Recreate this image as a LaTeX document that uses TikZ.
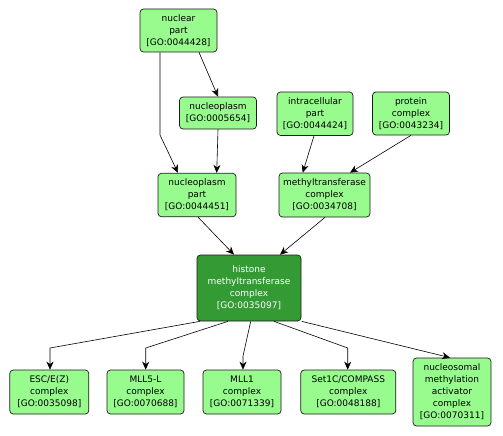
\documentclass[tikz,border=0pt]{standalone}
\usepackage{fontspec}
\setmainfont{DejaVu Sans}
\usetikzlibrary{arrows.meta}
\definecolor{lgreen}{HTML}{98FB8E}
\definecolor{dgreen}{HTML}{349A34}
\definecolor{edgec}{HTML}{1A1A1A}
\tikzset{
  goterm/.style n args={2}{draw=edgec, line width=0.7pt, rounded corners=3.5pt, fill=lgreen,
     minimum width=#1pt, minimum height=#2pt, inner sep=0pt, align=center,
     font=\fontsize{9}{12}\selectfont},
  gosel/.style={fill=dgreen, text=white},
  link/.style={draw=black, line width=0.6pt, -{Stealth[length=8pt,width=7pt,inset=2.5pt]}}
}
\begin{document}
\begin{tikzpicture}[x=1pt,y=-1pt]
\useasboundingbox[fill=white] (0,0) rectangle (503,436);
\node[goterm={77}{43}] (np) at (178.5,30.5) {nuclear\\part\\{[GO:0044428]}};
\node[goterm={77}{32}] (nucl) at (218,113) {nucleoplasm\\{[GO:0005654]}};
\node[goterm={76}{43.5}] (intra) at (315,113.7) {intracellular\\part\\{[GO:0044424]}};
\node[goterm={77}{43}] (prot) at (411,113.5) {protein\\complex\\{[GO:0043234]}};
\node[goterm={78}{43.5}] (npp) at (197,195) {nucleoplasm\\part\\{[GO:0044451]}};
\node[goterm={91}{44}] (mtc) at (324.5,195) {methyltransferase\\complex\\{[GO:0034708]}};
\node[goterm={104}{66},gosel] (hist) at (249,288) {histone\\methyltransferase\\complex\\{[GO:0035097]}};
\node[goterm={79}{44}] (esc) at (49.3,392) {ESC/E(Z)\\complex\\{[GO:0035098]}};
\node[goterm={77}{44}] (mll5) at (145.5,392) {MLL5-L\\complex\\{[GO:0070688]}};
\node[goterm={78}{44}] (mll1) at (242,392) {MLL1\\complex\\{[GO:0071339]}};
\node[goterm={95}{44}] (set) at (348.3,392) {Set1C/COMPASS\\complex\\{[GO:0048188]}};
\node[goterm={78}{68}] (nuc) at (452,392) {nucleosomal\\methylation\\activator\\complex\\{[GO:0070311]}};

\coordinate (b1) at (160,135);
\coordinate (b8) at (50,348);
\coordinate (b9) at (145.7,348);
\coordinate (b10) at (243,356);
\coordinate (b11) at (347.7,348);

\draw[link] ([xshift=-18.5pt]np.south) -- (b1) -- ([xshift=-19pt]npp.north);
\draw[link] ([xshift=20.5pt]np.south) -- (nucl.north);
\draw[link] (nucl.south) -- ([xshift=19.7pt]npp.north);
\draw[link] ([xshift=-1pt]intra.south) -- ([xshift=-21.8pt]mtc.north);
\draw[link] (prot.south) -- ([xshift=25.5pt]mtc.north);
\draw[link] ([xshift=1pt]npp.south) -- ([xshift=-15pt]hist.north);
\draw[link] ([xshift=0.5pt]mtc.south) -- ([xshift=31pt]hist.north);
\draw[link] ([xshift=-49pt]hist.south) -- (b8) -- ([xshift=0.7pt]esc.north);
\draw[link] ([xshift=-21pt]hist.south) -- (b9) -- ([xshift=0.2pt]mll5.north);
\draw[link] ([xshift=1.7pt]hist.south) -- (b10) -- ([xshift=1pt]mll1.north);
\draw[link] ([xshift=25pt]hist.south) -- (b11) -- ([xshift=-0.6pt]set.north);
\draw[link] ([xshift=52.7pt]hist.south) -- ([xshift=-2pt]nuc.north);
\end{tikzpicture}
\end{document}
